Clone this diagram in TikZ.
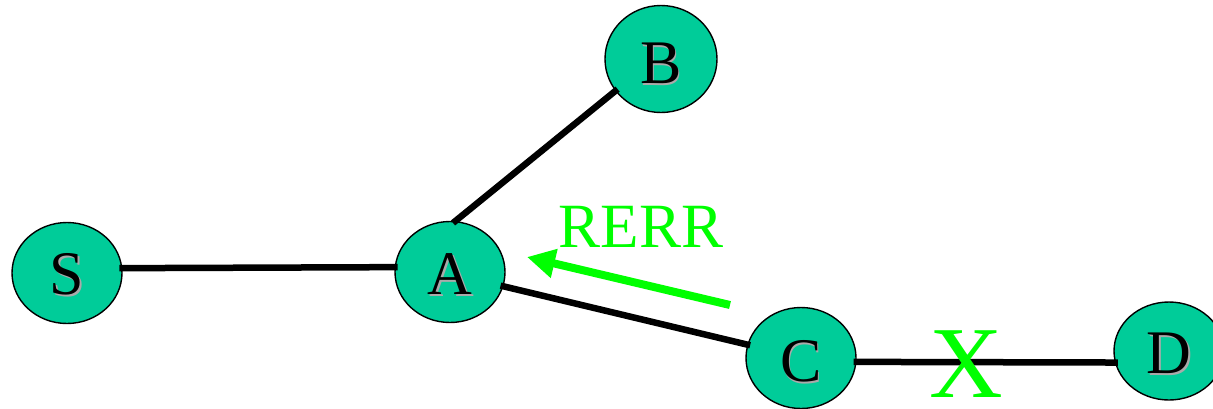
\documentclass[tikz,border=0pt]{standalone}
\usepackage{fontspec}
\setmainfont{Liberation Serif}
\usetikzlibrary{shapes.geometric,arrows.meta}
\definecolor{nodefill}{RGB}{0,204,153}
\definecolor{errgreen}{RGB}{0,255,0}
\definecolor{shadowgray}{RGB}{170,170,170}
\tikzset{
  vertex/.style={ellipse, draw=black, line width=1.4pt, fill=nodefill, inner sep=0pt, minimum width=110pt, minimum height=101pt},
  lbl/.style={inner sep=0pt, font=\fontsize{62}{70}\selectfont},
  link/.style={line width=6.5pt, black, shorten <=-3pt, shorten >=-3pt},
  errarrow/.style={line width=8pt, errgreen, -{Triangle[length=28pt,width=28pt]}}
}
\newcommand{\shadowed}[1]{\makebox[0pt]{\raisebox{-1.8pt}{\hspace{3.2pt}\textcolor{shadowgray}{#1}}}\makebox[0pt]{#1}}
\begin{document}
\begin{tikzpicture}[x=1pt,y=-1pt]
\useasboundingbox (0,0) rectangle (1213,408);
\node[vertex] (S) at (67,273) {};
\node[vertex] (A) at (450,272) {};
\node[vertex, minimum width=112pt, minimum height=107pt] (B) at (661,59) {};
\node[vertex] (C) at (801,358) {};
\node[vertex, minimum height=98pt] (D) at (1169,351) {};
\node[lbl] (Sl) at (67,275) {\shadowed{S}};
\node[lbl] (Al) at (450,275) {\shadowed{A}};
\node[lbl] (Bl) at (661,64) {\shadowed{B}};
\node[lbl] (Cl) at (801,362) {\shadowed{C}};
\node[lbl] (Dl) at (1169,354) {\shadowed{D}};
\draw[link] (S.5) -- (A.175);
\draw[link] (A.84) -- (B.215);
\draw[link] (A.345) -- (C.166);
\draw[link] (C.356) -- (D.192);
\coordinate (r1) at (730,305);
\coordinate (r2) at (527,257);
\draw[errarrow] (r1) -- (r2);
\node[inner sep=0pt, text=errgreen, font=\fontsize{63}{70}\selectfont] (rerr) at (641,227) {RERR};
\node[inner sep=0pt, text=errgreen, font=\fontsize{102}{108}\selectfont] (x) at (966,364) {X};
\end{tikzpicture}
\end{document}
